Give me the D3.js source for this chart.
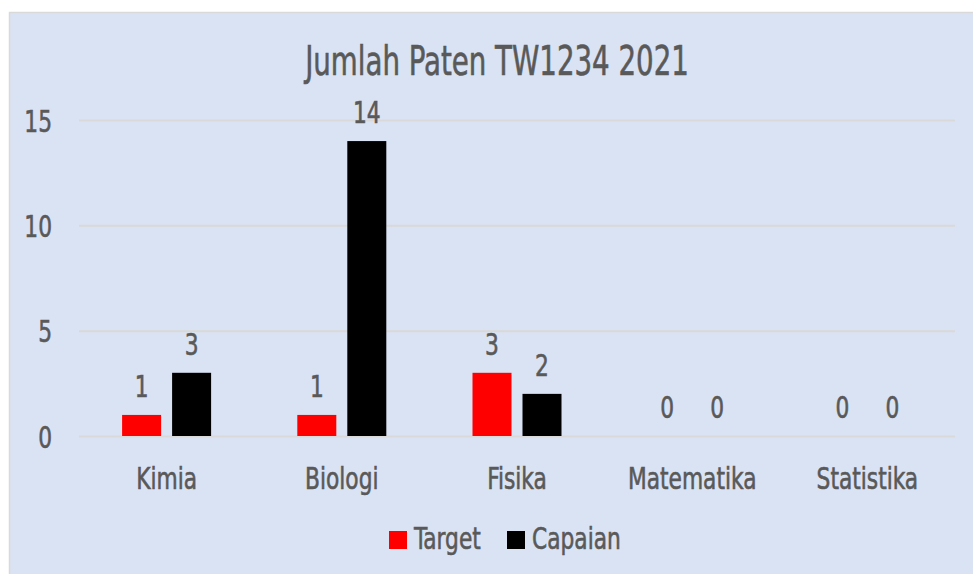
<!DOCTYPE html>
<html>
<head>
<meta charset="utf-8">
<script src="https://cdn.jsdelivr.net/npm/d3@7"></script>
<style>
  html, body { margin: 0; padding: 0; background: #fff; }
  svg { display: block; }
  text { font-family: "DejaVu Sans", sans-serif; font-stretch: condensed; fill: #595959;
         stroke: #595959; stroke-width: 0.6px; }
</style>
</head>
<body>
<svg id="chart" width="973" height="574"></svg>
<script>
// ── Data ──────────────────────────────────────────────────────────────────────
const categories = ["Kimia", "Biologi", "Fisika", "Matematika", "Statistika"];
const series = ["Target", "Capaian"];
const targetValues = [1, 1, 3, 0, 0];
const capaianValues = [3, 14, 2, 0, 0];
const yTicks = [0, 5, 10, 15];
const COLORS = { Target: "#ff0000", Capaian: "#000000" };

const rows = categories.map((c, i) => ({ cat: c, Target: targetValues[i], Capaian: capaianValues[i] }));

// the original font is a narrow DIN-like face; squeeze DejaVu to match
const SX = 0.78;
const FS = 31;
const squeeze = (x, y) => `translate(${x},${y}) scale(${SX},1)`;

// ── Layout ────────────────────────────────────────────────────────────────────
const svg = d3.select("#chart");
const plot = { left: 79, right: 955, top: 120, bottom: 436 };

svg.append("rect")
  .attr("x", 9.5).attr("y", 12.5).attr("width", 975).attr("height", 575)
  .attr("fill", "#dae3f3").attr("stroke", "#d9d9d9").attr("stroke-width", 1.5);

const x0 = d3.scaleBand().domain(categories).range([plot.left, plot.right])
  .paddingInner(0.492).paddingOuter(0.246);
const x1 = d3.scaleBand().domain(series).range([0, x0.bandwidth()]).paddingInner(0.22);
const y = d3.scaleLinear().domain([0, 15]).range([plot.bottom, plot.top]);

// ── Gridlines + y axis ────────────────────────────────────────────────────────
const yAxis = svg.append("g")
  .attr("transform", `translate(${plot.left},0)`)
  .call(d3.axisLeft(y).tickValues(yTicks).tickSize(-(plot.right - plot.left)).tickPadding(0));
yAxis.select(".domain").remove();
yAxis.selectAll(".tick line").attr("stroke", "#d9d9d9").attr("stroke-width", 2);
yAxis.selectAll(".tick text")
  .attr("x", null).attr("dy", null)
  .attr("transform", squeeze(-27, 11))
  .attr("font-size", FS).attr("font-family", null).attr("fill", "#595959");

// ── Bars ──────────────────────────────────────────────────────────────────────
const groups = svg.append("g").selectAll("g").data(rows).join("g")
  .attr("transform", d => `translate(${x0(d.cat)},0)`);

groups.selectAll("rect").data(d => series.map(s => ({ s, v: d[s] }))).join("rect")
  .attr("x", d => x1(d.s))
  .attr("y", d => y(d.v))
  .attr("width", x1.bandwidth())
  .attr("height", d => y(0) - y(d.v))
  .attr("fill", d => COLORS[d.s]);

groups.selectAll("text").data(d => series.map(s => ({ s, v: d[s] }))).join("text")
  .attr("transform", d => squeeze(x1(d.s) + x1.bandwidth() / 2, y(d.v) - 18))
  .attr("text-anchor", "middle")
  .attr("font-size", FS)
  .text(d => d.v);

// ── Category labels ───────────────────────────────────────────────────────────
svg.append("g").selectAll("text").data(categories).join("text")
  .attr("transform", d => squeeze(x0(d) + x0.bandwidth() / 2, 489))
  .attr("text-anchor", "middle")
  .attr("font-size", FS)
  .text(d => d);

// ── Title ─────────────────────────────────────────────────────────────────────
svg.append("text")
  .attr("transform", `translate(497,75) scale(0.75,1)`)
  .attr("text-anchor", "middle")
  .attr("font-size", 41)
  .text("Jumlah Paten TW1234 2021");

// ── Legend ────────────────────────────────────────────────────────────────────
const legendX = [389, 507];
const legend = svg.append("g").selectAll("g").data(series).join("g")
  .attr("transform", (d, i) => `translate(${legendX[i]},531)`);
legend.append("rect").attr("width", 18).attr("height", 18).attr("fill", d => COLORS[d]);
legend.append("text").attr("transform", squeeze(25, 18)).attr("font-size", FS).text(d => d);
</script>
</body>
</html>
